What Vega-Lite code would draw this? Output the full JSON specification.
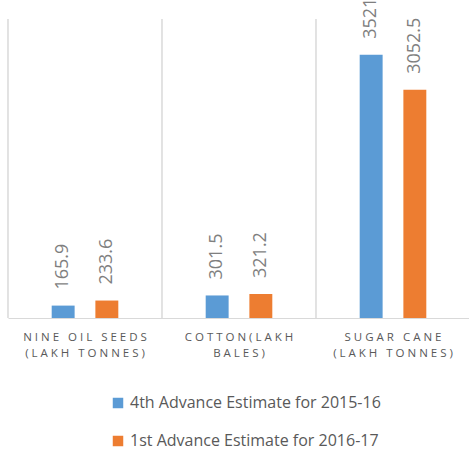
{
  "$schema": "https://vega.github.io/schema/vega-lite/v6.json",
  "width": 462,
  "height": 299,
  "autosize": "none",
  "padding": {"left": 8, "top": 19, "right": 0, "bottom": 135},
  "background": "white",
  "config": {"view": {"stroke": null}, "font": "Open Sans"},
  "data": {
    "values": [
      {"crop": "N\u00a0I\u00a0N\u00a0E\u00a0\u00a0\u00a0O\u00a0I\u00a0L\u00a0\u00a0\u00a0S\u00a0E\u00a0E\u00a0D\u00a0S|(\u00a0L\u00a0A\u00a0K\u00a0H\u00a0\u00a0\u00a0T\u00a0O\u00a0N\u00a0N\u00a0E\u00a0S\u00a0)", "series": "4th Advance Estimate for 2015-16", "value": 165.9},
      {"crop": "N\u00a0I\u00a0N\u00a0E\u00a0\u00a0\u00a0O\u00a0I\u00a0L\u00a0\u00a0\u00a0S\u00a0E\u00a0E\u00a0D\u00a0S|(\u00a0L\u00a0A\u00a0K\u00a0H\u00a0\u00a0\u00a0T\u00a0O\u00a0N\u00a0N\u00a0E\u00a0S\u00a0)", "series": "1st Advance Estimate for 2016-17", "value": 233.6},
      {"crop": "C\u00a0O\u00a0T\u00a0T\u00a0O\u00a0N\u00a0(\u00a0L\u00a0A\u00a0K\u00a0H|B\u00a0A\u00a0L\u00a0E\u00a0S\u00a0)", "series": "4th Advance Estimate for 2015-16", "value": 301.5},
      {"crop": "C\u00a0O\u00a0T\u00a0T\u00a0O\u00a0N\u00a0(\u00a0L\u00a0A\u00a0K\u00a0H|B\u00a0A\u00a0L\u00a0E\u00a0S\u00a0)", "series": "1st Advance Estimate for 2016-17", "value": 321.2},
      {"crop": "S\u00a0U\u00a0G\u00a0A\u00a0R\u00a0\u00a0\u00a0C\u00a0A\u00a0N\u00a0E|(\u00a0L\u00a0A\u00a0K\u00a0H\u00a0\u00a0\u00a0T\u00a0O\u00a0N\u00a0N\u00a0E\u00a0S\u00a0)", "series": "4th Advance Estimate for 2015-16", "value": 3521},
      {"crop": "S\u00a0U\u00a0G\u00a0A\u00a0R\u00a0\u00a0\u00a0C\u00a0A\u00a0N\u00a0E|(\u00a0L\u00a0A\u00a0K\u00a0H\u00a0\u00a0\u00a0T\u00a0O\u00a0N\u00a0N\u00a0E\u00a0S\u00a0)", "series": "1st Advance Estimate for 2016-17", "value": 3052.5}
    ]
  },
  "encoding": {
    "x": {
      "field": "crop",
      "type": "nominal",
      "sort": null,
      "scale": {"paddingInner": 0, "paddingOuter": 0},
      "axis": {
        "title": null,
        "labelAngle": 0,
        "labelExpr": "split(datum.label, '|')",
        "labelFont": "Open Sans",
        "labelFontSize": 11.5,
        "labelColor": "#595959",
        "labelLineHeight": 16,
        "labelPadding": 13,
        "labelLimit": 160,
        "ticks": false,
        "domainColor": "#d9d9d9",
        "domainWidth": 1,
        "grid": false
      }
    }
  },
  "layer": [
    {
      "mark": {"type": "rule", "color": "#d9d9d9", "strokeWidth": 1},
      "encoding": {"x": {"field": "crop", "type": "nominal", "sort": null, "bandPosition": 0}}
    },
    {
      "mark": {"type": "bar"},
      "encoding": {
        "xOffset": {
          "field": "series",
          "type": "nominal",
          "sort": ["4th Advance Estimate for 2015-16", "1st Advance Estimate for 2016-17"],
          "scale": {"paddingInner": 0.475, "paddingOuter": 1.1625}
        },
        "y": {
          "field": "value",
          "type": "quantitative",
          "scale": {"domain": [0, 4000], "nice": false},
          "axis": null
        },
        "color": {
          "field": "series",
          "type": "nominal",
          "sort": ["4th Advance Estimate for 2015-16", "1st Advance Estimate for 2016-17"],
          "scale": {"range": ["#5B9BD5", "#ED7D31"]},
          "legend": {
            "title": null,
            "orient": "none",
            "direction": "vertical",
            "legendX": 102,
            "legendY": 376,
            "symbolType": "square",
            "symbolSize": 110,
            "symbolStrokeWidth": 0,
            "labelFont": "Open Sans",
            "labelFontSize": 16,
            "labelColor": "#595959",
            "labelLimit": 400,
            "rowPadding": 22,
            "labelOffset": 4
          }
        }
      }
    },
    {
      "mark": {"type": "text", "angle": 270, "align": "left", "baseline": "middle", "dx": 16, "fontSize": 18, "color": "#7f7f7f", "font": "Open Sans"},
      "encoding": {
        "xOffset": {
          "field": "series",
          "type": "nominal",
          "sort": ["4th Advance Estimate for 2015-16", "1st Advance Estimate for 2016-17"],
          "scale": {"paddingInner": 0.475, "paddingOuter": 1.1625}
        },
        "y": {"field": "value", "type": "quantitative"},
        "text": {"field": "value", "type": "nominal"}
      }
    }
  ]
}
